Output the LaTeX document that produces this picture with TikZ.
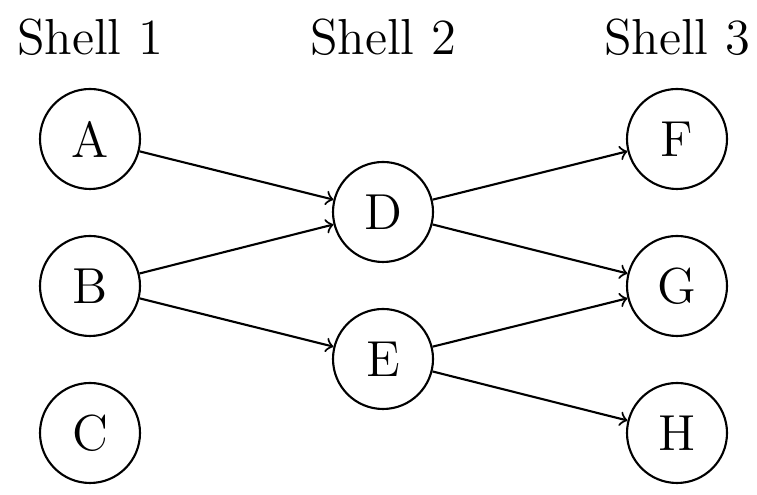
\documentclass[tikz,border=0pt]{standalone}
\usepackage{amsmath,amssymb}
\usepackage{tikz}

\begin{document}
\begin{tikzpicture}[
    shell/.style={circle, draw, minimum size=1cm, inner sep=0pt, font=\Large, line width=0.6pt},
    title/.style={anchor=base, font=\Large},
    link/.style={->, line width=0.6pt}
]
\useasboundingbox (0,0) rectangle (7.57,-4.95);
% shell titles
\node[title] (t1) at (0.90,-0.55) {Shell 1};
\node[title] (t2) at (3.83,-0.55) {Shell 2};
\node[title] (t3) at (6.77,-0.55) {Shell 3};
% nodes
\node[shell] (A) at (0.90,-1.39) {A};
\node[shell] (B) at (0.90,-2.86) {B};
\node[shell] (C) at (0.90,-4.33) {C};
\node[shell] (D) at (3.83,-2.12) {D};
\node[shell] (E) at (3.83,-3.59) {E};
\node[shell] (F) at (6.77,-1.39) {F};
\node[shell] (G) at (6.77,-2.86) {G};
\node[shell] (H) at (6.77,-4.33) {H};
% links
\foreach \a/\b in {A/D, B/D, B/E, D/F, D/G, E/G, E/H}
    \draw[link] (\a) -- (\b);
\end{tikzpicture}
\end{document}
